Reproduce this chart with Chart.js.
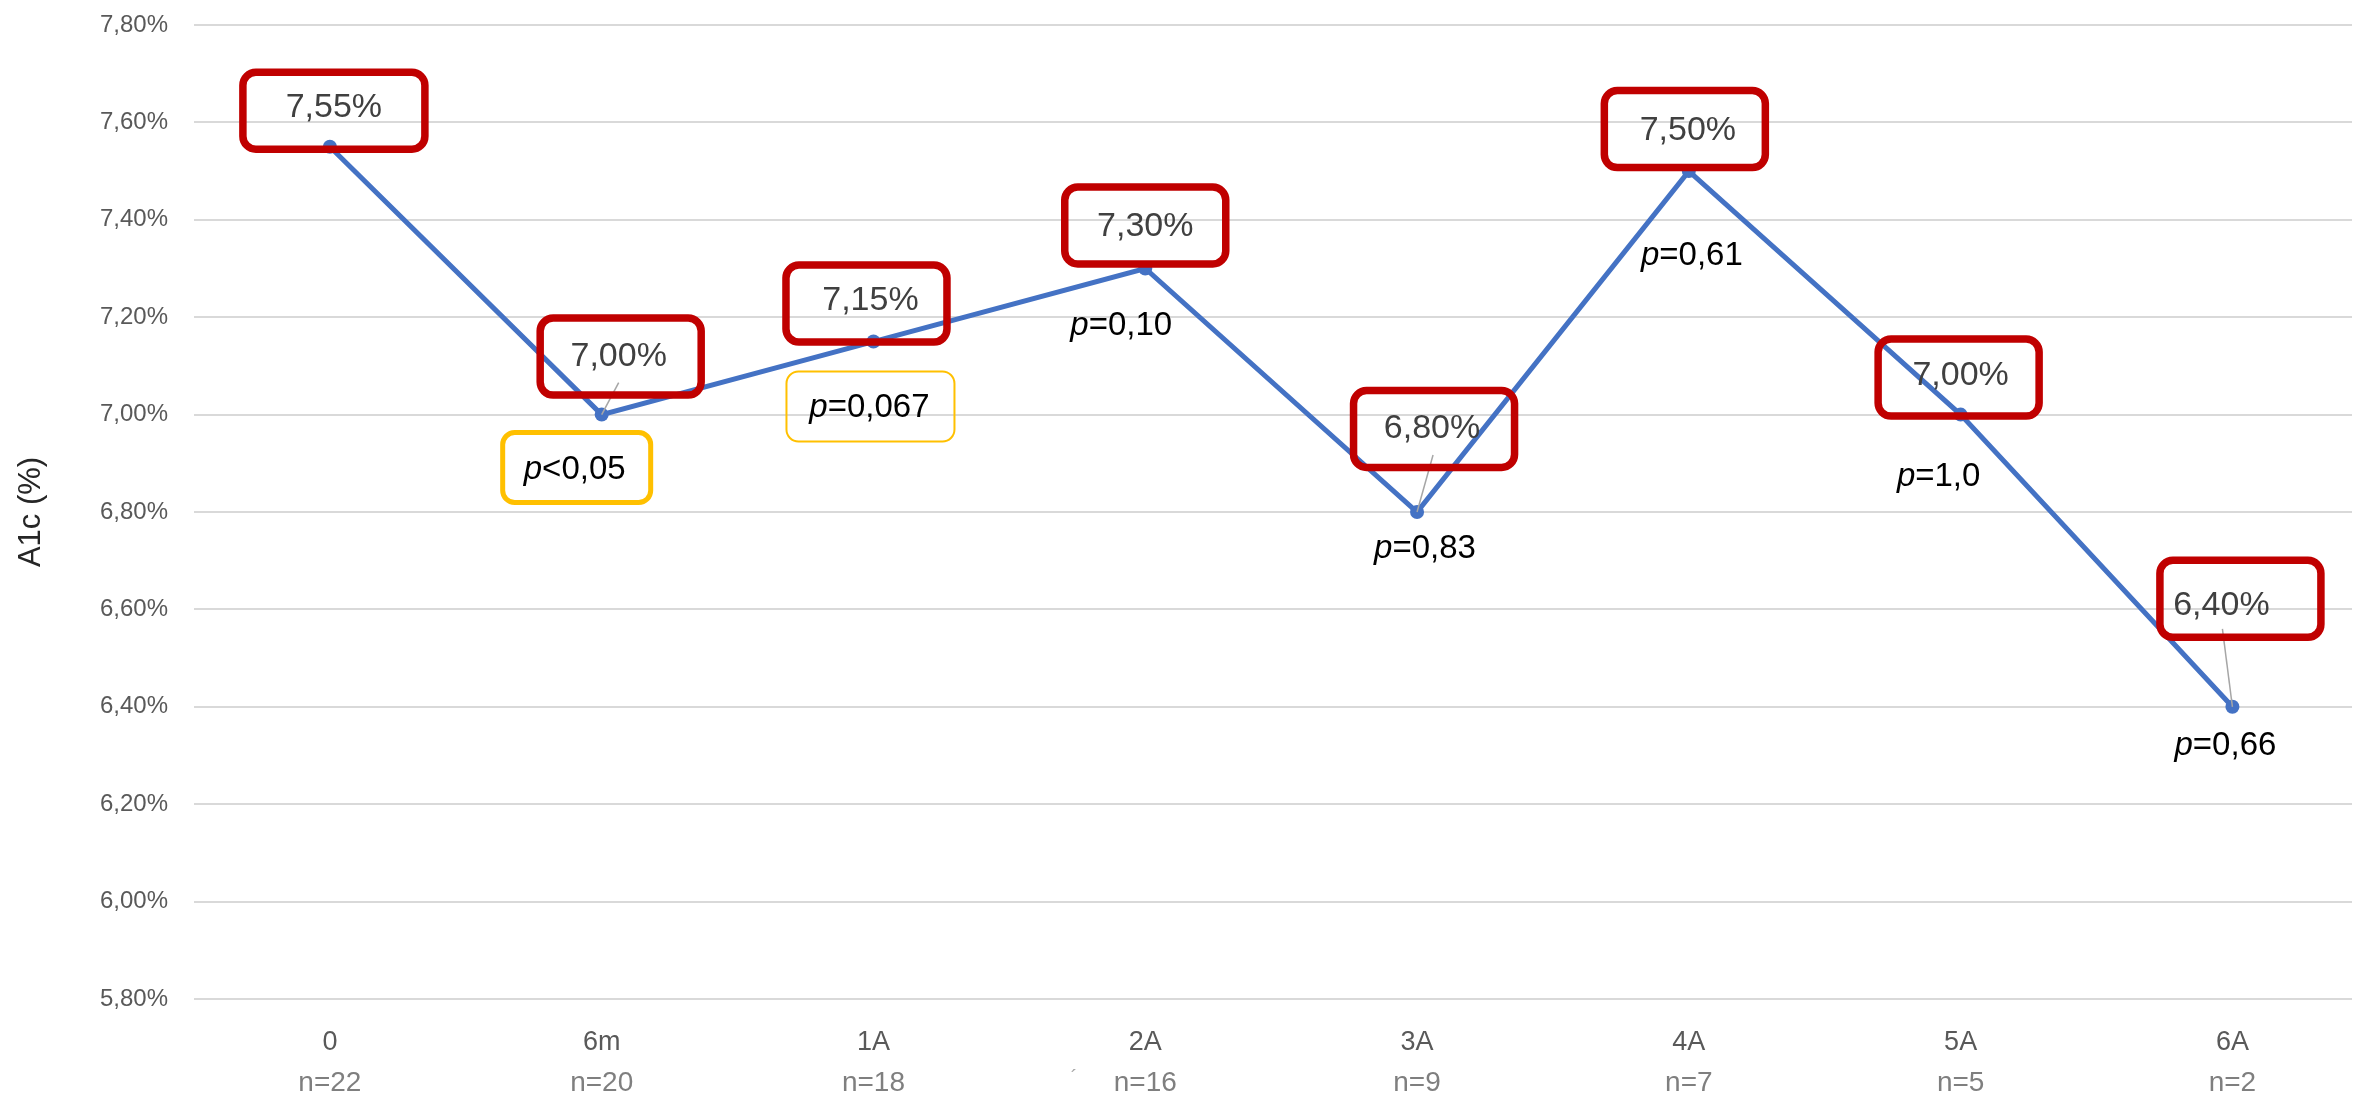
<!DOCTYPE html>
<html>
<head>
<meta charset="utf-8">
<script src="https://cdn.jsdelivr.net/npm/chart.js@4.4.1/dist/chart.umd.min.js"></script>
<style>
html,body{margin:0;padding:0;background:#fff;overflow:hidden}
canvas{display:block}
</style>
</head>
<body>
<canvas id="a1cChart" width="2359" height="1096"></canvas>
<script>
// data
const timepoints = ['0', '6m', '1A', '2A', '3A', '4A', '5A', '6A'];
const nLabels = ['n=22', 'n=20', 'n=18', 'n=16', 'n=9', 'n=7', 'n=5', 'n=2'];
const a1cValues = [7.55, 7.00, 7.15, 7.30, 6.80, 7.50, 7.00, 6.40];
const pTexts = ['', '<0,05', '=0,067', '=0,10', '=0,83', '=0,61', '=1,0', '=0,66'];
const yTicks = [5.8, 6.0, 6.2, 6.4, 6.6, 6.8, 7.0, 7.2, 7.4, 7.6, 7.8];

// label placement (px, relative to each point)
const boxOffset = [[4,-36],[19,-58],[-7,-38],[0,-43],[17,-83],[-4,-42],[-2,-37],[8,-108]];
const boxWidth = [182,161,161,161,161,161,161,161];
const textShift = [[0,-3],[-2,0],[4,-3],[0,1],[-2,0],[3,2],[2,-2],[-19,7]];
const leaders = [null,[17,-32],null,null,[16,-57],null,null,[-10,-78]];
const pOffset = [null,[-27,55],[-4,66],[-24,57],[8,37],[3,85],[-22,62],[-7,39]];
const pBoxes = [null,{w:148,h:70,lw:5,dx:2,dy:-2},{w:168,h:70,lw:2,dx:1,dy:-1},null,null,null,null,null];

const fmt = v => v.toFixed(2).replace('.', ',') + '%';
const FONT = '"Liberation Sans", Arial, sans-serif';

function rrect(ctx, x, y, w, h, r) {
  ctx.beginPath();
  ctx.moveTo(x + r, y);
  ctx.arcTo(x + w, y, x + w, y + h, r);
  ctx.arcTo(x + w, y + h, x, y + h, r);
  ctx.arcTo(x, y + h, x, y, r);
  ctx.arcTo(x, y, x + w, y, r);
  ctx.closePath();
}

const labelPlugin = {
  id: 'labelPlugin',
  afterDatasetsDraw(chart) {
    const ctx = chart.ctx;
    const pts = chart.getDatasetMeta(0).data;
    ctx.save();
    pts.forEach((pt, i) => {
      const px = pt.x, py = pt.y;
      // leader line
      if (leaders[i]) {
        ctx.strokeStyle = '#a6a6a6'; ctx.lineWidth = 1.5;
        ctx.beginPath(); ctx.moveTo(px + leaders[i][0], py + leaders[i][1]); ctx.lineTo(px, py); ctx.stroke();
      }
      // red value box
      const cx = px + boxOffset[i][0], cy = py + boxOffset[i][1];
      const w = boxWidth[i], h = 77;
      ctx.strokeStyle = '#C00000'; ctx.lineWidth = 7.5;
      rrect(ctx, cx - w / 2, cy - h / 2, w, h, 13);
      ctx.stroke();
      ctx.fillStyle = '#404040';
      ctx.font = '34px ' + FONT;
      ctx.textAlign = 'center'; ctx.textBaseline = 'middle';
      ctx.fillText(fmt(a1cValues[i]), cx + textShift[i][0], cy + textShift[i][1]);
      // p value
      if (pOffset[i]) {
        const tx = px + pOffset[i][0], ty = py + pOffset[i][1];
        if (pBoxes[i]) {
          const b = pBoxes[i];
          ctx.strokeStyle = '#FFC000'; ctx.lineWidth = b.lw;
          rrect(ctx, tx + b.dx - b.w / 2, ty + b.dy - b.h / 2, b.w, b.h, 12);
          ctx.stroke();
        }
        ctx.fillStyle = '#000';
        ctx.textAlign = 'left';
        ctx.font = 'italic 33px ' + FONT;
        const wp = ctx.measureText('p').width;
        ctx.font = '33px ' + FONT;
        const wr = ctx.measureText(pTexts[i]).width;
        const x0 = tx - (wp + wr) / 2;
        ctx.font = 'italic 33px ' + FONT;
        ctx.fillText('p', x0, ty);
        ctx.font = '33px ' + FONT;
        ctx.fillText(pTexts[i], x0 + wp, ty);
      }
    });
    // stray mark near the axis labels
    ctx.fillStyle = '#a6a6a6'; ctx.font = '20px ' + FONT; ctx.textAlign = 'center';
    ctx.fillText('´', 1074, 1078);
    ctx.restore();
  }
};

const xCommon = {
  type: 'linear',
  position: 'bottom',
  min: -0.5,
  max: 7.44,
  grid: { display: false, drawTicks: false },
  border: { display: false },
  afterBuildTicks: axis => { axis.ticks = timepoints.map((t, i) => ({ value: i })); }
};

const ctx = document.getElementById('a1cChart').getContext('2d');
const a1cChart = new Chart(ctx, {
  type: 'line',
  data: {
    datasets: [{
      label: 'A1c',
      data: a1cValues.map((v, i) => ({ x: i, y: v })),
      xAxisID: 'x',
      borderColor: '#4472C4',
      backgroundColor: '#4472C4',
      borderWidth: 5,
      pointRadius: 7,
      pointBorderWidth: 0,
      pointBackgroundColor: '#4472C4',
      tension: 0,
      fill: false
    }]
  },
  options: {
    responsive: false,
    animation: false,
    devicePixelRatio: 1,
    layout: { padding: { top: 25, left: 0, right: 0, bottom: 0 } },
    plugins: { legend: { display: false }, tooltip: { enabled: false }, title: { display: false } },
    scales: {
      x: Object.assign({}, xCommon, {
        ticks: { autoSkip: false, maxRotation: 0, padding: 27, color: '#595959',
          font: { family: FONT, size: 27 }, callback: (v, i) => timepoints[i] },
        afterFit: s => { s.height = 62; }
      }),
      x2: Object.assign({}, xCommon, {
        ticks: { autoSkip: false, maxRotation: 0, padding: 5, color: '#7f7f7f',
          font: { family: FONT, size: 28 }, callback: (v, i) => nLabels[i] },
        afterFit: s => { s.height = 35; }
      }),
      y: {
        min: 5.8,
        max: 7.8,
        afterBuildTicks: axis => { axis.ticks = yTicks.map(v => ({ value: v })); },
        grid: { color: '#d9d9d9', lineWidth: 2, drawTicks: false },
        border: { display: false },
        ticks: { padding: 26, color: '#595959', font: { family: FONT, size: 24 }, callback: v => fmt(v) },
        title: { display: true, text: 'A1c (%)', color: '#262626', padding: { top: 13, bottom: 0 },
          font: { family: FONT, size: 31 } },
        afterFit: s => { s.width = 194; s.paddingTop = 0; s.paddingBottom = 0; }
      }
    }
  },
  plugins: [labelPlugin]
});
</script>
</body>
</html>
